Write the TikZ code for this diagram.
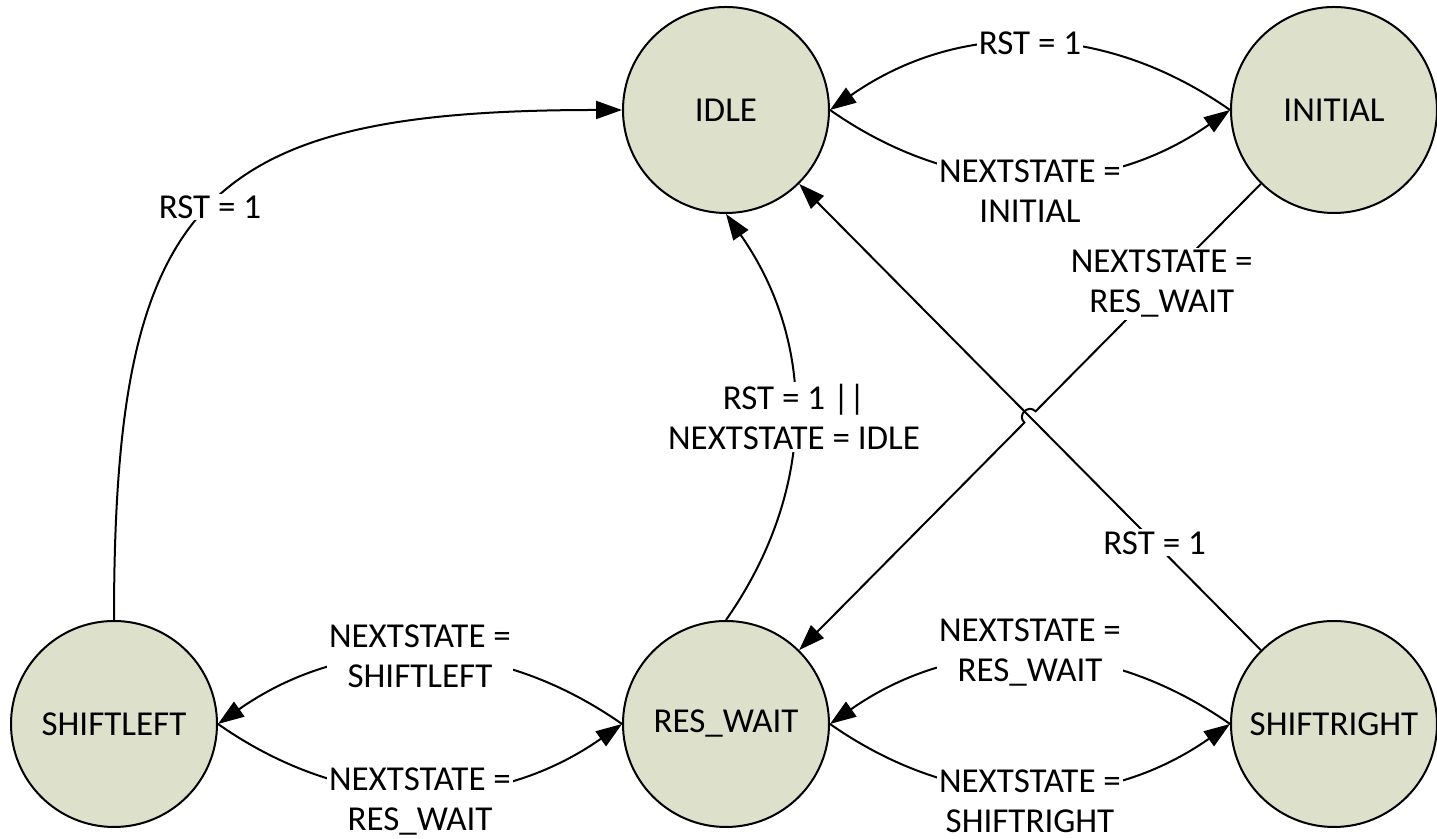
\documentclass[tikz,border=0pt]{standalone}
\usepackage{fontspec}
\setmainfont{Carlito}
\usepackage{tikz}
\usetikzlibrary{arrows.meta}
\usetikzlibrary{calc}
\usetikzlibrary{intersections}
\definecolor{statefill}{RGB}{221,225,204}

\begin{document}
\begin{tikzpicture}[x=0.5pt, y=0.5pt,
    font=\fontsize{17.5}{20}\selectfont,
    fsm/.style={circle, draw, line width=1pt, fill=statefill, minimum size=103pt, inner sep=0pt},
    trans/.style={line width=1pt, -{Triangle[length=13pt,width=9pt]}},
    lbl/.style={fill=white, inner sep=1pt, align=center}]
    \useasboundingbox (0,0) rectangle (1437,839);

    \node[fsm] (idle) at (726,729) {IDLE};
    \node[fsm] (initial) at (1334,729) {INITIAL};
    \node[fsm] (shiftleft) at (114,115) {SHIFTLEFT};
    \node[fsm] (reswait) at (726,115) {RES\_WAIT};
    \node[fsm] (shiftright) at (1334,115) {SHIFTRIGHT};

    \draw[trans] (shiftleft.north) to[out=90, in=180, looseness=1.5] node[lbl] {RST = 1} (idle.west);
    \draw[trans] (idle.east) to[bend right=35] node[lbl, yshift=-7pt] {NEXTSTATE =\\INITIAL} (initial.west);
    \draw[trans] (initial.west) to[bend right=35] node[lbl] {RST = 1} (idle.east);
    \draw[trans] (reswait.north) to[out=55, in=-55] node[lbl] {RST = 1 ||\\NEXTSTATE = IDLE} (idle.south);

    \draw[trans, name path=rstline] (shiftright) -- node[lbl, pos=0.23] {RST = 1} (idle);
    \path[name path=hopline] (initial) -- (reswait);
    \path[name intersections={of=rstline and hopline, by=hop}];
    \draw[trans] (initial) -- node[lbl, pos=0.44] {NEXTSTATE =\\RES\_WAIT} ($(hop)!4pt!(initial)$)
        to[bend right=90, looseness=1.7] ($(hop)!4pt!(reswait)$) -- (reswait);

    \draw[trans] (reswait.west) to[bend right=35] node[lbl] {NEXTSTATE =\\SHIFTLEFT} (shiftleft.east);
    \draw[trans] (shiftleft.east) to[bend right=35] node[lbl, yshift=-5pt] {NEXTSTATE =\\RES\_WAIT} (reswait.west);
    \draw[trans] (shiftright.west) to[bend right=35] node[lbl, yshift=2pt] {NEXTSTATE =\\RES\_WAIT} (reswait.east);
    \draw[trans] (reswait.east) to[bend right=35] node[lbl, yshift=-5pt] {NEXTSTATE =\\SHIFTRIGHT} (shiftright.west);
\end{tikzpicture}
\end{document}
